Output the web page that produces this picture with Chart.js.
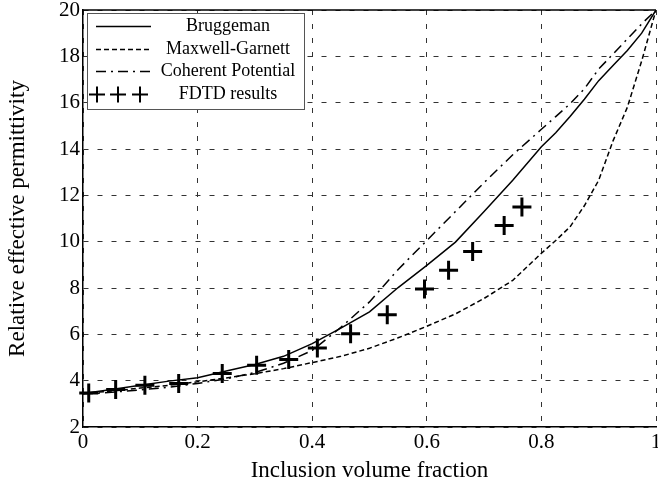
<!DOCTYPE html>
<html>

<head>
  <title>Relative effective permittivity</title>
  <script src="https://cdn.jsdelivr.net/npm/chart.js"></script>
  <style>
    body { margin: 0; background: #fff; }
  </style>
</head>

<body>
  <canvas id="chart" width="658" height="487"></canvas>
  <script>
    // volume fraction grid used by the three mixing rules
    var fraction = [0, 0.05, 0.1, 0.15, 0.2, 0.25, 0.3, 0.35, 0.4, 0.45, 0.5, 0.55, 0.6, 0.65, 0.7, 0.75, 0.8, 0.825, 0.85, 0.875, 0.9, 0.925, 0.95, 0.975, 1];
    var bruggeman = [3.45, 3.62, 3.8, 3.98, 4.13, 4.42, 4.7, 5.05, 5.6, 6.27, 6.97, 8.02, 8.98, 9.98, 11.3, 12.65, 14.1, 14.7, 15.4, 16.15, 16.95, 17.6, 18.25, 19.0, 20];
    var maxwellGarnett = [3.45, 3.55, 3.68, 3.8, 3.95, 4.12, 4.3, 4.52, 4.78, 5.05, 5.4, 5.85, 6.35, 6.88, 7.55, 8.33, 9.5, 10.05, 10.64, 11.55, 12.65, 14.35, 15.8, 17.8, 20];
    var coherentPotential = [3.42, 3.5, 3.6, 3.72, 3.88, 4.08, 4.35, 4.75, 5.3, 6.3, 7.4, 8.8, 10.05, 11.3, 12.55, 13.75, 14.85, 15.4, 15.95, 16.6, 17.45, 18.1, 18.75, 19.4, 20];

    // FDTD simulation points
    var fdtdFraction = [0.01, 0.057, 0.108, 0.167, 0.243, 0.303, 0.359, 0.409, 0.467, 0.531, 0.596, 0.638, 0.68, 0.735, 0.766];
    var fdtdValue = [3.47, 3.62, 3.8, 3.88, 4.31, 4.67, 4.91, 5.41, 6.03, 6.85, 7.96, 8.77, 9.58, 10.7, 11.5];

    var xTicks = [0, 0.2, 0.4, 0.6, 0.8, 1];
    var xTickLabels = ['0', '0.2', '0.4', '0.6', '0.8', '1'];
    var yTicks = [2, 4, 6, 8, 10, 12, 14, 16, 18, 20];
    var yTickLabels = ['2', '4', '6', '8', '10', '12', '14', '16', '18', '20'];

    var seriesNames = ['Bruggeman', 'Maxwell-Garnett', 'Coherent Potential', 'FDTD results'];

    function pairs(xs, ys) {
      return ys.map(function (v, i) { return { x: xs[i], y: v }; });
    }

    var FONT = '"Liberation Serif", "Times New Roman", serif';

    // legend box inside the plot + top frame line
    var legendBox = {
      id: 'legendBox',
      afterDraw: function (chart) {
        var ctx = chart.ctx;
        var area = chart.chartArea;
        ctx.save();
        ctx.strokeStyle = '#000';
        ctx.lineWidth = 1.5;
        ctx.beginPath();
        ctx.moveTo(area.left, area.top);
        ctx.lineTo(area.right, area.top);
        ctx.stroke();

        var left = area.left + 4, top = area.top + 3, w = 217, h = 96;
        ctx.fillStyle = '#fff';
        ctx.fillRect(left, top, w, h);
        ctx.strokeStyle = '#555';
        ctx.lineWidth = 1;
        ctx.strokeRect(left + 0.5, top + 0.5, w, h);

        chart.data.datasets.forEach(function (ds, i) {
          var y = Math.round(top + 13 + i * 22.5) + 0.5;
          ctx.strokeStyle = '#000';
          if (ds.showLine === false) {
            ctx.lineWidth = 2;
            ctx.setLineDash([]);
            [10, 31, 53].forEach(function (dx) {
              ctx.beginPath();
              ctx.moveTo(left + dx - 8, y);
              ctx.lineTo(left + dx + 8, y);
              ctx.moveTo(left + dx, y - 8);
              ctx.lineTo(left + dx, y + 8);
              ctx.stroke();
            });
          } else {
            ctx.lineWidth = ds.borderWidth;
            ctx.setLineDash(ds.borderDash || []);
            ctx.beginPath();
            ctx.moveTo(left + 9, y);
            ctx.lineTo(left + 64, y);
            ctx.stroke();
          }
          ctx.setLineDash([]);
          ctx.fillStyle = '#000';
          ctx.font = '18px ' + FONT;
          ctx.textAlign = 'center';
          ctx.textBaseline = 'middle';
          ctx.fillText(ds.label, left + 141, y);
        });
        ctx.restore();
      }
    };

    var ctx = document.getElementById('chart').getContext('2d');
    var chart = new Chart(ctx, {
      type: 'line',
      data: {
        datasets: [{
          label: seriesNames[0],
          data: pairs(fraction, bruggeman),
          borderColor: '#000',
          borderWidth: 1.5,
          pointRadius: 0,
          tension: 0
        }, {
          label: seriesNames[1],
          data: pairs(fraction, maxwellGarnett),
          borderColor: '#000',
          borderWidth: 1.5,
          borderDash: [5, 3],
          pointRadius: 0,
          tension: 0
        }, {
          label: seriesNames[2],
          data: pairs(fraction, coherentPotential),
          borderColor: '#000',
          borderWidth: 1.5,
          borderDash: [10, 5, 2, 5],
          pointRadius: 0,
          tension: 0
        }, {
          label: seriesNames[3],
          data: pairs(fdtdFraction, fdtdValue),
          showLine: false,
          pointStyle: 'cross',
          pointRadius: 9.5,
          pointBorderWidth: 3,
          borderColor: '#000',
          backgroundColor: '#000',
          clip: false
        }]
      },
      options: {
        responsive: false,
        animation: false,
        devicePixelRatio: 1,
        layout: { autoPadding: false, padding: { top: 10, right: 2, bottom: 0, left: 0 } },
        plugins: {
          legend: { display: false },
          tooltip: { enabled: false }
        },
        scales: {
          x: {
            type: 'linear',
            min: 0,
            max: 1,
            afterBuildTicks: function (scale) {
              scale.ticks = xTicks.map(function (v) { return { value: v }; });
            },
            afterFit: function (scale) {
              scale.height = 60;
              scale.paddingLeft = 0;
              scale.paddingRight = 0;
            },
            ticks: {
              color: '#000',
              padding: 3,
              maxRotation: 0,
              font: { family: FONT, size: 21 },
              callback: function (v) { return xTickLabels[xTicks.indexOf(v)]; }
            },
            grid: { color: '#333', lineWidth: 1, drawTicks: false },
            border: { display: true, color: '#000', width: 1.5, dash: [5, 9] },
            title: {
              display: true,
              text: 'Inclusion volume fraction',
              color: '#000',
              font: { family: FONT, size: 23 },
              padding: { top: 4, bottom: 2 }
            }
          },
          y: {
            min: 2,
            max: 20,
            afterBuildTicks: function (scale) {
              scale.ticks = yTicks.map(function (v) { return { value: v }; });
            },
            afterFit: function (scale) {
              scale.width = 83;
              scale.paddingTop = 0;
              scale.paddingBottom = 0;
            },
            ticks: {
              color: '#000',
              padding: 3,
              font: { family: FONT, size: 21 },
              callback: function (v) { return yTickLabels[yTicks.indexOf(v)]; }
            },
            grid: { color: '#333', lineWidth: 1, drawTicks: false },
            border: { display: true, color: '#000', width: 1.5, dash: [5, 9] },
            title: {
              display: true,
              text: 'Relative effective permittivity',
              color: '#000',
              font: { family: FONT, size: 23 },
              padding: { top: 4, bottom: 4 }
            }
          }
        }
      },
      plugins: [legendBox]
    });
  </script>
</body>

</html>
